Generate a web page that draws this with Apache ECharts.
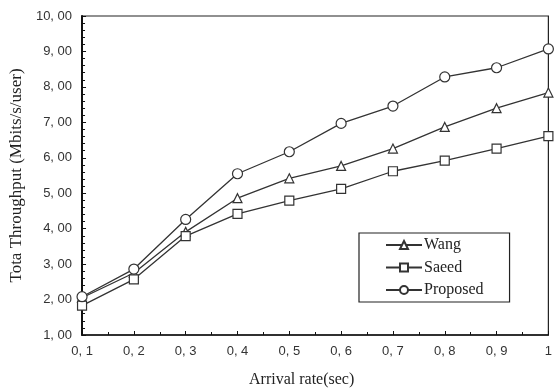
<!DOCTYPE html>
<html>
<head>
<meta charset="utf-8">
<script src="https://cdn.jsdelivr.net/npm/echarts@6/dist/echarts.min.js"></script>
<style>html,body{margin:0;padding:0;background:#fff}#c{width:555px;height:390px}</style>
</head>
<body>
<div id="c"></div>
<script>
const arrivalRates = [0.1, 0.2, 0.3, 0.4, 0.5, 0.6, 0.7, 0.8, 0.9, 1.0];
const xTickLabels = ['0, 1', '0, 2', '0, 3', '0, 4', '0, 5', '0, 6', '0, 7', '0, 8', '0, 9', '1'];
const wang = [2.05, 2.75, 3.91, 4.86, 5.42, 5.77, 6.26, 6.87, 7.40, 7.84];
const saeed = [1.83, 2.57, 3.79, 4.42, 4.79, 5.12, 5.62, 5.92, 6.26, 6.61];
const proposed = [2.08, 2.86, 4.26, 5.55, 6.17, 6.97, 7.46, 8.28, 8.54, 9.07];
const seriesNames = ['Wang', 'Saeed', 'Proposed'];

function pairs(vals) { return vals.map((v, i) => [arrivalRates[i], v]); }

const chart = echarts.init(document.getElementById('c'), null, {renderer: 'canvas'});
const lineColor = '#333';
const serif = '"Liberation Serif", "DejaVu Serif", serif';
const sans = '"Liberation Sans", Arial, sans-serif';

function mkSeries(name, vals, symbol, size) {
  return {
    name: name, type: 'line', data: pairs(vals),
    symbol: symbol, symbolSize: size, showAllSymbol: true,
    lineStyle: {color: lineColor, width: 1.3},
    itemStyle: {color: '#fff', borderColor: lineColor, borderWidth: 1.2},
    emphasis: {disabled: true},
    animation: false, z: 3
  };
}

chart.setOption({
  animation: false,
  backgroundColor: '#fff',
  grid: {left: 79, top: 16, right: 3, bottom: 55, show: true, borderColor: '#222', borderWidth: 1.2, containLabel: false},
  xAxis: {
    type: 'value', min: 0.1, max: 1, interval: 0.1,
    axisLine: {lineStyle: {color: '#111', width: 1.5}},
    axisTick: {inside: true, length: 4, lineStyle: {color: '#111'}},
    minorTick: {show: true, splitNumber: 2, length: 3, lineStyle: {color: '#111'}},
    splitLine: {show: false},
    axisLabel: {
      margin: 10, color: '#333', fontFamily: sans, fontSize: 13,
      formatter: function (v) {
        const i = arrivalRates.findIndex(r => Math.abs(r - v) < 1e-6);
        return i >= 0 ? xTickLabels[i] : '';
      }
    }
  },
  yAxis: {
    type: 'value', min: 1, max: 10, interval: 1,
    name: 'Tota Throughput (Mbits/s/user)', nameLocation: 'middle', nameGap: 55,
    nameTextStyle: {fontFamily: serif, fontSize: 17, color: '#222'},
    axisLine: {show: true, lineStyle: {color: '#111', width: 2}},
    axisTick: {inside: true, length: 4, lineStyle: {color: '#111'}},
    minorTick: {show: true, splitNumber: 5, length: 3, lineStyle: {color: '#111'}},
    splitLine: {show: false},
    axisLabel: {
      margin: 10, color: '#333', fontFamily: sans, fontSize: 13,
      formatter: function (v) { return v.toFixed(2).replace('.', ', '); }
    }
  },
  legend: {
    data: seriesNames,
    orient: 'vertical', left: 359, top: 233,
    padding: [4, 26, 4, 26], itemGap: 6.5, itemWidth: 36, itemHeight: 10,
    backgroundColor: '#fff', borderColor: '#222', borderWidth: 1.2,
    textStyle: {fontFamily: serif, fontSize: 16, color: '#222', padding: [0, 0, 0, -3]},
    selectedMode: false
  },
  graphic: [{
    type: 'text', left: 249, top: 372,
    style: {text: 'Arrival rate(sec)', font: '16px ' + serif, fill: '#222'}
  }],
  series: [
    mkSeries(seriesNames[0], wang, 'triangle', 9),
    mkSeries(seriesNames[1], saeed, 'rect', 9),
    mkSeries(seriesNames[2], proposed, 'circle', 10)
  ]
});
</script>
</body>
</html>
